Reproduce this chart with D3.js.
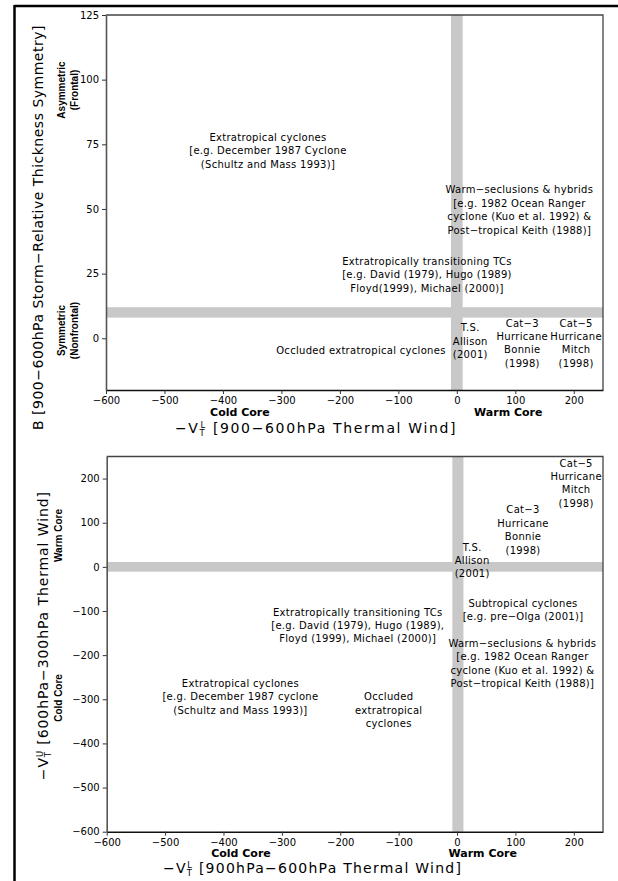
<!DOCTYPE html>
<html><head><meta charset="utf-8">
<script src="https://cdn.jsdelivr.net/npm/d3@7"></script>
<style>body{margin:0;background:#fff}svg{display:block}</style>
</head><body><svg id="c" width="618" height="881"></svg>
<script>
// ---------- data ----------
const xTicks = [-600, -500, -400, -300, -200, -100, 0, 100, 200];
const xDomain = [-600, 250];
const topYDomain = [-20, 125];
const topYTicks = [0, 25, 50, 75, 100, 125];
const botYDomain = [-600, 250];
const botYTicks = [-600, -500, -400, -300, -200, -100, 0, 100, 200];

// threshold bands (grey) in data units
const topVBand = [-10, 10];     // -VTL ~ 0
const topHBand = [8, 12];       // B ~ 10
const botVBand = [-8, 11];      // -VTL ~ 0
const botHBand = [-11, 11];     // -VTU ~ 0

// annotations: centre x, first-line baseline y (data units)
const topAnnotations = [
  {x: -323, y: 76.3, lines: ["Extratropical cyclones", "[e.g. December 1987 Cyclone", "(Schultz and Mass 1993)]"]},
  {x: 107, y: 56.0, lines: ["Warm\u2212seclusions & hybrids", "[e.g. 1982 Ocean Ranger", "cyclone (Kuo et al. 1992) &", "Post\u2212tropical Keith (1988)]"]},
  {x: -51, y: 28.4, lines: ["Extratropically transitioning TCs", "[e.g. David (1979), Hugo (1989)", "Floyd(1999), Michael (2000)]"]},
  {x: -164, y: -6.1, lines: ["Occluded extratropical cyclones"]},
  {x: 23, y: 2.7, lines: ["T.S.", "Allison", "(2001)"]},
  {x: 112, y: 4.5, lines: ["Cat\u22123", "Hurricane", "Bonnie", "(1998)"]},
  {x: 204, y: 4.5, lines: ["Cat\u22125", "Hurricane", "Mitch", "(1998)"]}
];
const botAnnotations = [
  {x: 204, y: 227, lines: ["Cat\u22125", "Hurricane", "Mitch", "(1998)"]},
  {x: 113, y: 121, lines: ["Cat\u22123", "Hurricane", "Bonnie", "(1998)"]},
  {x: 26, y: 37, lines: ["T.S.", "Allison", "(2001)"]},
  {x: 113, y: -91, lines: ["Subtropical cyclones", "[e.g. pre\u2212Olga (2001)]"]},
  {x: 112, y: -181.5, lines: ["Warm\u2212seclusions & hybrids", "[e.g. 1982 Ocean Ranger", "cyclone (Kuo et al. 1992) &", "Post\u2212tropical Keith (1988)]"]},
  {x: -170, y: -110.5, lines: ["Extratropically transitioning TCs", "[e.g. David (1979), Hugo (1989),", "Floyd (1999), Michael (2000)]"]},
  {x: -371, y: -271.6, lines: ["Extratropical cyclones", "[e.g. December 1987 cyclone", "(Schultz and Mass 1993)]"]},
  {x: -117, y: -302.7, lines: ["Occluded", "extratropical", "cyclones"]}
];

// side labels
const topYSide = [
  {y: 96, lines: ["Asymmetric", "(Frontal)"]},
  {y: 3, lines: ["Symmetric", "(Nonfrontal)"]}
];
const botYSide = [
  {y: 71, lines: ["Warm Core"]},
  {y: -297, lines: ["Cold Core"]}
];
const topXSide = [{x: -371, text: "Cold Core"}, {x: 88, text: "Warm Core"}];
const botXSide = [{x: -370, text: "Cold Core"}, {x: 44, text: "Warm Core"}];

// ---------- drawing ----------
const svg = d3.select("#c");
const FONT = "'DejaVu Sans', Verdana, sans-serif";
const GREY = "#c8c8c8";

// outer frame lines
svg.append("line").attr("x1", 14.5).attr("x2", 618).attr("y1", 6).attr("y2", 6)
  .attr("stroke", "#000").attr("stroke-width", 2.5);
svg.append("line").attr("x1", 14.5).attr("x2", 14.5).attr("y1", 5).attr("y2", 881)
  .attr("stroke", "#000").attr("stroke-width", 2.5);

function fitWidth(t, target) {
  const w = t.node().getComputedTextLength();
  const n = t.text().length;
  t.attr("letter-spacing", ((target - w) / n).toFixed(3));
}

function vText(t, main, sup, rest, fs) {
  t.append("tspan").text(main);
  t.append("tspan").attr("font-size", fs * 0.6).attr("dy", 3).text("T");
  t.append("tspan").attr("font-size", fs * 0.6).attr("dx", -fs * 0.42).attr("dy", -8.5).text(sup);
  t.append("tspan").attr("dy", 5.5).text(rest);
}

function panel(cfg) {
  const x = d3.scaleLinear().domain(xDomain).range([cfg.left, cfg.right]);
  const y = d3.scaleLinear().domain(cfg.yDomain).range([cfg.bottom, cfg.top]);
  const g = svg.append("g");

  // bands
  g.append("rect").attr("x", cfg.left).attr("width", cfg.right - cfg.left)
    .attr("y", y(cfg.hBand[1])).attr("height", y(cfg.hBand[0]) - y(cfg.hBand[1]))
    .attr("fill", GREY);
  g.append("rect").attr("x", x(cfg.vBand[0])).attr("width", x(cfg.vBand[1]) - x(cfg.vBand[0]))
    .attr("y", cfg.top).attr("height", cfg.bottom - cfg.top)
    .attr("fill", GREY);

  // frame top/right
  g.append("path").attr("d", `M${cfg.left},${cfg.top}H${cfg.right}V${cfg.bottom}`)
    .attr("fill", "none").attr("stroke", "#444").attr("stroke-width", 1.3);

  // axes
  const xa = g.append("g").attr("transform", `translate(0,${cfg.bottom})`)
    .call(d3.axisBottom(x).tickValues(xTicks).tickSize(4).tickSizeOuter(0)
      .tickFormat(d => d < 0 ? "\u2212" + Math.abs(d) : d));
  const ya = g.append("g").attr("transform", `translate(${cfg.left},0)`)
    .call(d3.axisLeft(y).tickValues(cfg.yTicks).tickSize(4).tickSizeOuter(0)
      .tickFormat(d => d < 0 ? "\u2212" + Math.abs(d) : d));
  [xa, ya].forEach(a => {
    a.selectAll("text").attr("font-family", FONT).attr("font-size", 10).attr("fill", "#000");
    a.selectAll("line").attr("stroke", "#333");
  });
  xa.select(".domain").attr("stroke", "#111").attr("stroke-width", 1.6);
  ya.select(".domain").attr("stroke", "#555").attr("stroke-width", 1.6);

  // annotations
  cfg.ann.forEach(a => {
    const t = g.append("text").attr("font-family", FONT).attr("font-size", 10)
      .attr("letter-spacing", 0.3).attr("text-anchor", "middle").attr("fill", "#000");
    a.lines.forEach((l, i) => {
      t.append("tspan").attr("x", x(a.x)).attr("y", y(a.y) + i * 13.4).text(l);
    });
  });

  // rotated side labels (y)
  cfg.ySide.forEach(s => {
    const t = g.append("text").attr("font-family", "'Liberation Sans Narrow', 'Liberation Sans', sans-serif")
      .attr("font-weight", "bold").attr("font-size", 10).attr("text-anchor", "middle")
      .attr("transform", `translate(${cfg.ySideX},${y(s.y)}) rotate(-90)`);
    s.lines.forEach((l, i) => {
      t.append("tspan").attr("x", 0).attr("y", i * 13).text(l);
    });
  });
  // x side labels
  cfg.xSide.forEach(s => {
    g.append("text").attr("font-family", FONT).attr("font-weight", "bold").attr("font-size", 11)
      .attr("text-anchor", "middle").attr("x", x(s.x)).attr("y", cfg.bottom + cfg.xSideDy).text(s.text);
  });

  // x title
  const xt = g.append("text").attr("font-family", FONT).attr("font-size", 14)
    .attr("x", cfg.xTitleX).attr("y", cfg.xTitleY);
  vText(xt, "\u2212V", "L", cfg.xTitleRest, 14);
  fitWidth(xt, cfg.xTitleW);

  // y title
  const yt = g.append("text").attr("font-family", FONT).attr("font-size", 14)
    .attr("text-anchor", "middle")
    .attr("transform", `translate(${cfg.yTitleX},${cfg.yTitleCY}) rotate(-90)`);
  if (cfg.yTitleSup) vText(yt, "\u2212V", cfg.yTitleSup, cfg.yTitleRest, 14);
  else yt.text(cfg.yTitleRest);
  fitWidth(yt, cfg.yTitleW);
}

panel({
  left: 106, right: 603, top: 15, bottom: 390,
  yDomain: topYDomain, yTicks: topYTicks,
  vBand: topVBand, hBand: topHBand,
  ann: topAnnotations, ySide: topYSide, ySideX: 65, xSide: topXSide, xSideDy: 26,
  xTitleX: 175, xTitleY: 433, xTitleW: 288, xTitleRest: " [900\u2212600hPa Thermal Wind]",
  yTitleX: 43, yTitleCY: 227.5, yTitleW: 405, yTitleSup: null,
  yTitleRest: "B [900\u2212600hPa Storm\u2212Relative Thickness Symmetry]"
});
panel({
  left: 106.7, right: 603, top: 456.5, bottom: 831.7,
  yDomain: botYDomain, yTicks: botYTicks,
  vBand: botVBand, hBand: botHBand,
  ann: botAnnotations, ySide: botYSide, ySideX: 62, xSide: botXSide, xSideDy: 25,
  xTitleX: 163, xTitleY: 873, xTitleW: 305, xTitleRest: " [900hPa\u2212600hPa Thermal Wind]",
  yTitleX: 48, yTitleCY: 635.7, yTitleW: 295, yTitleSup: "U",
  yTitleRest: " [600hPa\u2212300hPa Thermal Wind]"
});
</script></body></html>
